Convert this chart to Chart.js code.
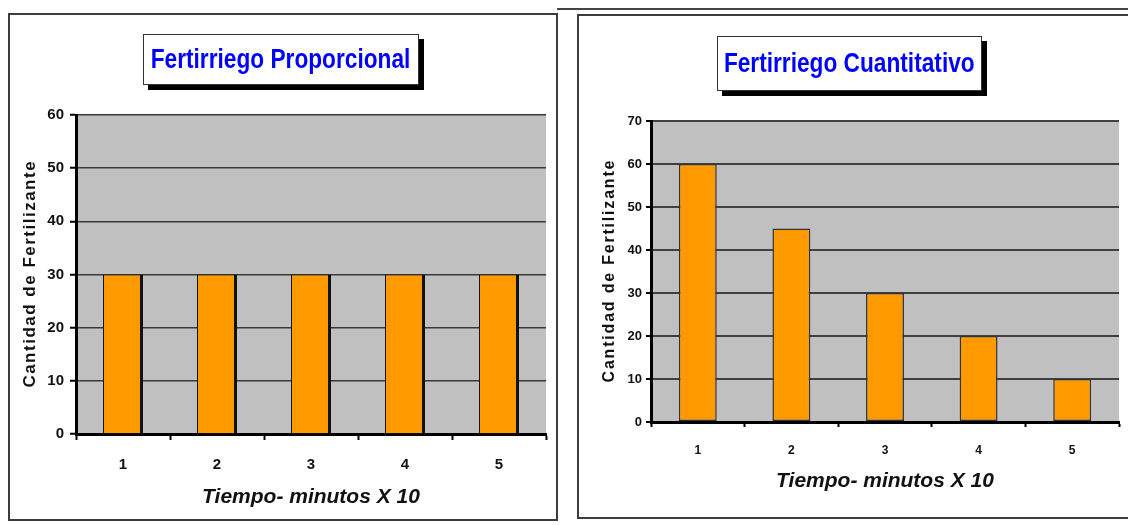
<!DOCTYPE html>
<html lang="es">
<head>
<meta charset="utf-8">
<title>Fertirriego</title>
<script src="https://cdn.jsdelivr.net/npm/chart.js@4/dist/chart.umd.min.js"></script>
<style>
  html, body { margin: 0; padding: 0; }
  body { width: 1128px; height: 525px; background: #fff; position: relative; overflow: hidden; }
  .topline { position: absolute; left: 557px; top: 8px; width: 580px; height: 0; border-top: 2px solid #444; }
  .panel { position: absolute; border: 2px solid #3c3c3c; box-sizing: border-box; }
  #panelA { left: 8px; top: 13px; width: 550px; height: 508px; }
  #panelB { left: 577px; top: 14px; width: 580px; height: 505px; }
  canvas { position: absolute; top: 0; }
  #chartA { left: 0; }
  #chartB { left: 565px; }
  .tbox {
    position: absolute; background: #fff; border: 1px solid #333; box-sizing: border-box;
    box-shadow: 5px 5px 0 #000; display: flex; align-items: center; justify-content: center;
    color: #0000ff; font: bold 27px 'Liberation Sans', Arial, sans-serif; white-space: nowrap;
  }
  .tbox span { display: inline-block; transform: scaleX(0.84); }
  #titleA { left: 143px; top: 34px; width: 276px; height: 51px; }
  #titleB { left: 717px; top: 36px; width: 265px; height: 55px; }
</style>
</head>
<body>
<div class="topline"></div>
<div class="panel" id="panelA"></div>
<div class="panel" id="panelB"></div>
<canvas id="chartA" width="565" height="525"></canvas>
<canvas id="chartB" width="563" height="525"></canvas>
<div class="tbox" id="titleA"><span>Fertirriego Proporcional</span></div>
<div class="tbox" id="titleB"><span>Fertirriego Cuantitativo</span></div>
<script>
// Time steps (minutes x 10) and fertilizer amounts for each scheme
const categories = ['1', '2', '3', '4', '5'];
const proporcional = [30, 30, 30, 30, 30];
const cuantitativo = [60, 45, 30, 20, 10];
const yMaxProporcional = 60;
const yMaxCuantitativo = 70;
const yStep = 10;
const xAxisTitle = 'Tiempo- minutos X 10';
const yAxisTitle = 'Cantidad de Fertilizante';

const FONT = "'Liberation Sans', Arial, sans-serif";

// Grey plot-area fill behind the bars
const plotBackground = {
  id: 'plotBackground',
  beforeDraw(chart, args, opts) {
    const { ctx, chartArea: a } = chart;
    ctx.save();
    ctx.fillStyle = opts.color;
    ctx.fillRect(a.left, a.top, a.right - a.left, a.bottom - a.top);
    ctx.restore();
  }
};

// Rotated, letter-spaced y-axis caption
const spacedYTitle = {
  id: 'spacedYTitle',
  afterDraw(chart, args, opts) {
    const { ctx, chartArea: a } = chart;
    ctx.save();
    ctx.translate(opts.x, (a.top + a.bottom) / 2);
    ctx.rotate(-Math.PI / 2);
    ctx.font = `bold ${opts.size}px ${FONT}`;
    ctx.letterSpacing = opts.spacing + 'px';
    ctx.fillStyle = '#111';
    ctx.textAlign = 'center';
    ctx.textBaseline = 'middle';
    ctx.fillText(opts.text, opts.spacing / 2, 0);
    ctx.restore();
  }
};

function makeChart(id, values, s) {
  return new Chart(document.getElementById(id), {
    type: 'bar',
    data: {
      labels: categories,
      datasets: [{
        data: values,
        backgroundColor: '#FF9900',
        borderColor: s.barBorderColor,
        borderWidth: s.barBorder,
        borderSkipped: false,
        barPercentage: s.barPct,
        categoryPercentage: 1
      }]
    },
    options: {
      responsive: false,
      animation: false,
      events: [],
      layout: { padding: s.padding },
      plugins: {
        legend: { display: false },
        tooltip: { enabled: false },
        plotBackground: { color: '#C0C0C0' },
        spacedYTitle: { text: yAxisTitle, x: s.yTitleX, size: s.yTitleSize, spacing: s.yTitleSpacing }
      },
      scales: {
        x: {
          afterFit(scale) { scale.height = s.xHeight; },
          grid: { display: true, drawOnChartArea: false, offset: true, tickLength: s.tickLen, tickColor: '#000', tickWidth: 2 },
          border: { display: true, color: '#000', width: 3 },
          ticks: { color: '#111', padding: s.xTickPad, font: { family: FONT, size: s.xTickSize, weight: 'bold' } },
          title: {
            display: true, text: xAxisTitle, color: '#111',
            padding: { top: 0, bottom: 1 },
            font: { family: FONT, size: 21, weight: 'bold', style: 'italic' }
          }
        },
        y: {
          min: 0, max: s.yMax,
          afterFit(scale) { scale.width = s.yWidth; },
          grid: { color: s.gridColor, lineWidth: s.gridWidth, tickLength: s.tickLen, tickColor: '#000', tickWidth: 2 },
          border: { display: true, color: '#000', width: 3 },
          ticks: { stepSize: yStep, color: '#111', padding: s.yTickPad, font: { family: FONT, size: s.yTickSize, weight: 'bold' } }
        }
      }
    },
    plugins: [plotBackground, spacedYTitle]
  });
}

makeChart('chartA', proporcional, {
  yMax: yMaxProporcional,
  padding: { left: 10, right: 19, top: 115, bottom: 14 },
  yWidth: 66, xHeight: 77,
  tickLen: 6, xTickPad: 16, yTickPad: 6,
  xTickSize: 15, yTickSize: 15,
  gridColor: '#3a3a3a', gridWidth: 1.5,
  barPct: 0.426, barBorder: { left: 1, top: 1, right: 3, bottom: 0 }, barBorderColor: '#111',
  yTitleX: 30, yTitleSize: 17, yTitleSpacing: 1.5
});

makeChart('chartB', cuantitativo, {
  yMax: yMaxCuantitativo,
  padding: { left: 10, right: 9, top: 121, bottom: 30 },
  yWidth: 76, xHeight: 73,
  tickLen: 5, xTickPad: 16, yTickPad: 4,
  xTickSize: 12, yTickSize: 13,
  gridColor: '#404040', gridWidth: 2,
  barPct: 0.405, barBorder: 1.5, barBorderColor: '#333',
  yTitleX: 45, yTitleSize: 16, yTitleSpacing: 1.8
});
</script>
</body>
</html>
